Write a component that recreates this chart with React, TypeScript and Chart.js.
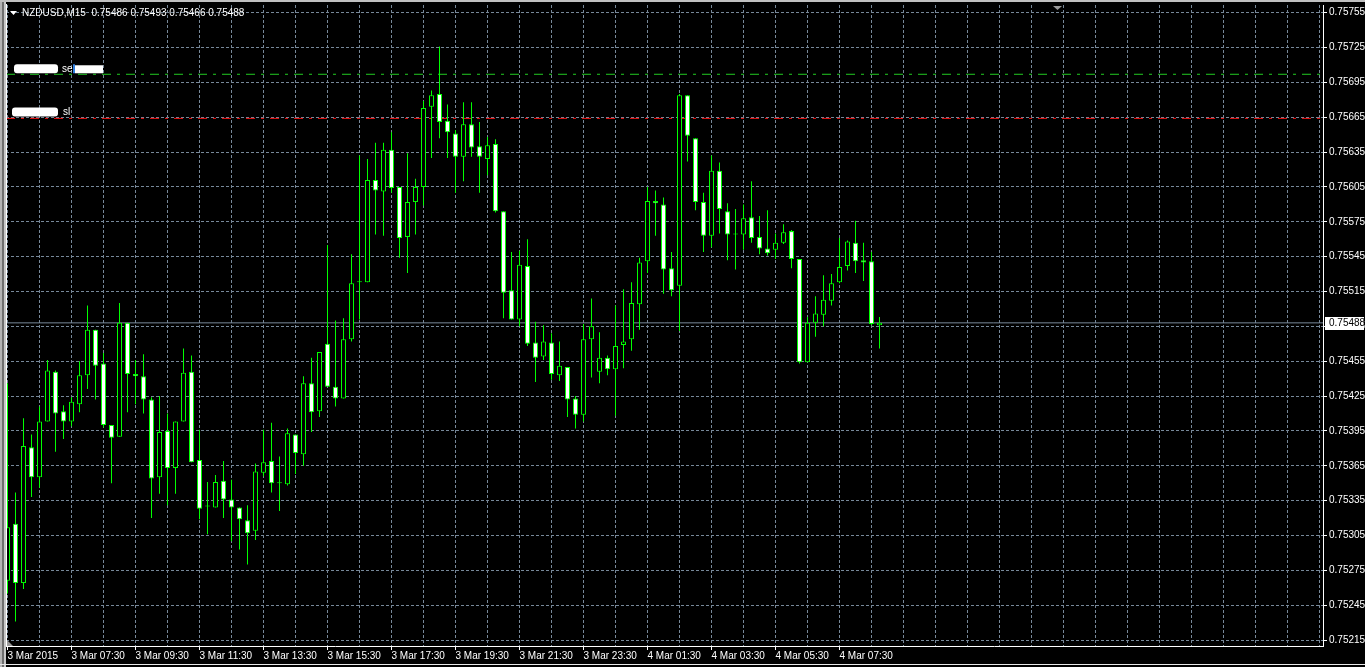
import React, { useEffect, useRef } from "react";
import { Chart, registerables } from "chart.js";

Chart.register(...registerables);

const symbol = "NZDUSD,M15";

// OHLC of each M15 bar, first bar = 3 Mar 2015 05:30
const opens = [
  0.75266, 0.75315, 0.75264, 0.75381, 0.75355, 0.75403, 0.75446, 0.75412, 0.75403, 0.75418,
  0.75443, 0.75482, 0.75453, 0.754, 0.7539, 0.75488, 0.75444, 0.75442, 0.75422, 0.75355,
  0.75395, 0.75363, 0.75403, 0.75446, 0.7537, 0.7533, 0.75329, 0.75352, 0.75336, 0.75329,
  0.75318, 0.75309, 0.75359, 0.75369, 0.7535, 0.75349, 0.75392, 0.75375, 0.75436, 0.75412,
  0.7547, 0.75433, 0.75423, 0.75474, 0.75523, 0.75523, 0.75611, 0.75601, 0.75637, 0.75605,
  0.75562, 0.75592, 0.75605, 0.75674, 0.75685, 0.75662, 0.75651, 0.75631, 0.75659, 0.7564,
  0.75629, 0.75642, 0.75584, 0.75516, 0.75491, 0.75537, 0.75471, 0.75459, 0.75471, 0.75443,
  0.7545, 0.75423, 0.75409, 0.75474, 0.75446, 0.75458, 0.75448, 0.75469, 0.75474, 0.75504,
  0.75541, 0.75593, 0.7559, 0.75535, 0.7552, 0.75684, 0.75647, 0.75592, 0.75563, 0.75619,
  0.75584, 0.75564, 0.75564, 0.75579, 0.75562, 0.75552, 0.75551, 0.75557, 0.75567, 0.75543,
  0.75454, 0.75488, 0.75495, 0.75507, 0.75523, 0.75537, 0.75557, 0.75542, 0.75541, 0.75486,
];
const highs = [
  0.75436, 0.75342, 0.75406, 0.75392, 0.75416, 0.75456, 0.75447, 0.75417, 0.75424, 0.75455,
  0.75503, 0.75482, 0.75462, 0.754, 0.75505, 0.75488, 0.75456, 0.75461, 0.75424, 0.75425,
  0.7541, 0.75403, 0.75466, 0.7546, 0.75396, 0.75351, 0.75357, 0.75369, 0.75353, 0.75329,
  0.75331, 0.75367, 0.75396, 0.75402, 0.75373, 0.75397, 0.75392, 0.75442, 0.75458, 0.75463,
  0.75555, 0.7549, 0.75492, 0.75547, 0.75632, 0.75629, 0.75643, 0.75643, 0.75652, 0.75605,
  0.75634, 0.75612, 0.75679, 0.75688, 0.75726, 0.75676, 0.75654, 0.75678, 0.75678, 0.75661,
  0.75648, 0.75646, 0.75584, 0.75549, 0.7555, 0.7556, 0.75489, 0.75486, 0.75479, 0.75472,
  0.7545, 0.75425, 0.75487, 0.75509, 0.7548, 0.7546, 0.75503, 0.75517, 0.75523, 0.75544,
  0.75605, 0.75602, 0.75596, 0.75549, 0.75685, 0.75684, 0.75647, 0.756, 0.75632, 0.75626,
  0.75591, 0.75586, 0.7559, 0.7561, 0.7558, 0.75585, 0.75565, 0.75573, 0.75568, 0.75543,
  0.75493, 0.75511, 0.75529, 0.7553, 0.75561, 0.75559, 0.75576, 0.75557, 0.75549, 0.75493,
];
const lows = [
  0.75255, 0.75231, 0.75259, 0.75338, 0.75346, 0.75403, 0.75377, 0.75388, 0.75399, 0.75411,
  0.75431, 0.75422, 0.75398, 0.7535, 0.7539, 0.75411, 0.75418, 0.7541, 0.7532, 0.75341,
  0.75331, 0.75341, 0.75403, 0.75368, 0.75319, 0.75306, 0.75329, 0.7532, 0.753, 0.75293,
  0.7528, 0.75301, 0.75356, 0.75342, 0.75326, 0.75348, 0.75358, 0.75365, 0.75394, 0.75407,
  0.75433, 0.75416, 0.75423, 0.75472, 0.75491, 0.75523, 0.75564, 0.75563, 0.756, 0.75544,
  0.75531, 0.75564, 0.75589, 0.7563, 0.75647, 0.7563, 0.756, 0.7561, 0.75631, 0.756,
  0.75615, 0.75583, 0.75492, 0.75491, 0.75485, 0.75468, 0.75437, 0.75456, 0.75439, 0.75438,
  0.75407, 0.75397, 0.75403, 0.75441, 0.75436, 0.75443, 0.75408, 0.75449, 0.75464, 0.75482,
  0.75531, 0.75563, 0.75513, 0.75511, 0.75481, 0.75627, 0.75585, 0.75549, 0.75553, 0.75565,
  0.75542, 0.75534, 0.75551, 0.75557, 0.75547, 0.75546, 0.75543, 0.75556, 0.75535, 0.75453,
  0.75454, 0.75476, 0.75485, 0.75503, 0.75522, 0.75533, 0.75531, 0.75524, 0.75486, 0.75466,
];
const closes = [
  0.75312, 0.75264, 0.75382, 0.75355, 0.75403, 0.75447, 0.7541, 0.75403, 0.7542, 0.75443,
  0.75482, 0.75451, 0.754, 0.75389, 0.75488, 0.75444, 0.75442, 0.75422, 0.75354, 0.75394,
  0.75363, 0.75403, 0.75445, 0.75368, 0.75328, 0.7533, 0.75351, 0.75336, 0.75329, 0.75319,
  0.75307, 0.7536, 0.75368, 0.7535, 0.7535, 0.75393, 0.75376, 0.75436, 0.75411, 0.75463,
  0.75433, 0.75423, 0.75474, 0.75522, 0.75523, 0.75611, 0.75602, 0.75637, 0.75604, 0.75561,
  0.75592, 0.75605, 0.75673, 0.75684, 0.75661, 0.75652, 0.75631, 0.75659, 0.75639, 0.75631,
  0.75641, 0.75584, 0.75514, 0.75491, 0.75538, 0.7547, 0.75458, 0.75472, 0.75444, 0.75451,
  0.75422, 0.75409, 0.75474, 0.75485, 0.75458, 0.75448, 0.75468, 0.75472, 0.75505, 0.7554,
  0.75593, 0.75591, 0.75534, 0.75516, 0.75684, 0.75649, 0.75592, 0.75563, 0.75619, 0.75586,
  0.75564, 0.75564, 0.75578, 0.75561, 0.75552, 0.75548, 0.75557, 0.75566, 0.75543, 0.75454,
  0.75488, 0.75496, 0.75508, 0.75522, 0.75536, 0.75558, 0.75541, 0.7554, 0.75487, 0.75488,
];

// time-axis labels, one every 8 bars (2 hours)
const xTickLabels = [
  "3 Mar 2015", "3 Mar 07:30", "3 Mar 09:30", "3 Mar 11:30", "3 Mar 13:30", "3 Mar 15:30",
  "3 Mar 17:30", "3 Mar 19:30", "3 Mar 21:30", "3 Mar 23:30", "4 Mar 01:30", "4 Mar 03:30",
  "4 Mar 05:30", "4 Mar 07:30",
];
const barsPerLabel = 8;
const barsPerGrid = 4;

// price-axis ticks
const yTickValues = [
  0.75215, 0.75245, 0.75275, 0.75305, 0.75335, 0.75365, 0.75395, 0.75425, 0.75455, 0.75485,
  0.75515, 0.75545, 0.75575, 0.75605, 0.75635, 0.75665, 0.75695, 0.75725, 0.75755,
];

// order levels
const sellLevel = 0.75702;
const slLevel = 0.75664;

// visible ranges
const yMin = 0.7520984;
const yMax = 0.7576163;
const xMin = -0.1875;
const xMax = 164.4375;

const FONT = "'Liberation Sans', Arial, sans-serif";
const GRID = "#778899";
const CANDLE = "#00ff00";

const decorPlugin = {
  id: "mt4decor",
  beforeDraw(chart: any) {
    const ctx = chart.ctx;
    ctx.save();
    ctx.fillStyle = "#000";
    ctx.fillRect(0, 0, chart.width, chart.height);
    ctx.restore();
  },
  afterDraw(chart: any) {
    const ctx: CanvasRenderingContext2D = chart.ctx;
    const area = chart.chartArea;
    const yScale = chart.scales.y;
    const W = chart.width;
    const H = chart.height;
    ctx.save();

    // window frame
    ctx.fillStyle = "#b4b4b4";
    ctx.fillRect(0, 0, 2, H);
    ctx.fillStyle = "#6e6e6e";
    ctx.fillRect(2, 0, 2, H);
    ctx.fillStyle = "#c8c8c8";
    ctx.fillRect(4, 0, 2, H);
    ctx.fillStyle = "#c0c0c0";
    ctx.fillRect(0, 0, W, 2);
    ctx.fillStyle = "#ffffff";
    ctx.fillRect(area.left, area.top - 1, 1, area.bottom - area.top + 1);
    ctx.fillStyle = "#e8e8e8";
    ctx.fillRect(0, H - 3, W, 1);

    // chart-shift markers
    ctx.fillStyle = "#9a9a9a";
    ctx.beginPath();
    ctx.moveTo(1053, area.top + 1);
    ctx.lineTo(1062, area.top + 1);
    ctx.lineTo(1057.5, area.top + 5);
    ctx.closePath();
    ctx.fill();
    ctx.beginPath();
    ctx.moveTo(area.left + 1, area.bottom - 6);
    ctx.lineTo(area.left + 1, area.bottom);
    ctx.lineTo(area.left + 7, area.bottom);
    ctx.closePath();
    ctx.fill();

    // title
    const n = closes.length - 1;
    ctx.fillStyle = "#ffffff";
    ctx.beginPath();
    ctx.moveTo(10, 11);
    ctx.lineTo(17, 11);
    ctx.lineTo(13.5, 15);
    ctx.closePath();
    ctx.fill();
    ctx.font = `10px ${FONT}`;
    ctx.textBaseline = "middle";
    ctx.textAlign = "left";
    const title = `${symbol}  ${opens[n].toFixed(5)} ${highs[n].toFixed(5)} ${lows[n].toFixed(5)} ${closes[n].toFixed(5)}`;
    ctx.fillText(title, 22, 13.5);

    // order labels (redacted in the source picture)
    const ySell = yScale.getPixelForValue(sellLevel);
    ctx.fillStyle = "#ffffff";
    ctx.beginPath();
    ctx.roundRect(14, ySell - 10, 44, 9, 3);
    ctx.fill();
    ctx.fillText("se", 62, ySell - 5);
    ctx.fillStyle = "#2f7fe0";
    ctx.fillRect(73, ySell - 10, 2, 9);
    ctx.fillStyle = "#ffffff";
    ctx.fillRect(75, ySell - 9, 28, 8);

    const ySl = yScale.getPixelForValue(slLevel);
    ctx.beginPath();
    ctx.roundRect(12, ySl - 11, 46, 9, 3);
    ctx.fill();
    ctx.fillText("sl", 63, ySl - 6);

    // current price tag
    const yc = yScale.getPixelForValue(closes[n]);
    ctx.fillStyle = "#ffffff";
    ctx.fillRect(area.right + 2, Math.round(yc) - 6, 39, 13);
    ctx.fillStyle = "#000000";
    ctx.fillText(closes[n].toFixed(5), area.right + 6, Math.round(yc) + 0.5);

    ctx.restore();
  },
};

export default function App() {
  const ref = useRef<HTMLCanvasElement>(null);

  useEffect(() => {
    document.body.style.margin = "0";
    document.body.style.background = "#000";
    const canvas = ref.current!;
    const n = closes.length;
    const idx = closes.map((_, i) => i);
    const bodyColors = idx.map((i) => (closes[i] >= opens[i] ? "#000000" : "#ffffff"));
    const last = closes[n - 1];

    const xGridTicks: number[] = [];
    for (let v = 0; v <= xMax; v += barsPerGrid) xGridTicks.push(v);

    const chart = new Chart(canvas, {
      type: "bar",
      data: {
        datasets: [
          {
            type: "bar",
            label: "body",
            data: idx.map((i) => ({ x: i, y: [opens[i], closes[i]] })) as any,
            backgroundColor: bodyColors,
            borderColor: CANDLE,
            borderWidth: 1,
            borderSkipped: false,
            barThickness: 5,
            minBarLength: 1,
            inflateAmount: 0,
            grouped: false,
            order: 0,
          } as any,
          {
            type: "bar",
            label: "wick",
            data: idx.map((i) => ({ x: i, y: [lows[i], highs[i]] })) as any,
            backgroundColor: CANDLE,
            borderWidth: 0,
            barThickness: 1,
            inflateAmount: 0,
            grouped: false,
            order: 1,
          } as any,
          {
            type: "line",
            label: "bid",
            data: [
              { x: xMin, y: last },
              { x: xMax, y: last },
            ],
            borderColor: GRID,
            borderWidth: 1,
            pointRadius: 0,
            order: 3,
          } as any,
          {
            type: "line",
            label: "sell",
            data: [
              { x: xMin, y: sellLevel },
              { x: xMax, y: sellLevel },
            ],
            borderColor: "#22cc22",
            borderWidth: 1,
            borderDash: [9, 6, 3, 6],
            pointRadius: 0,
            order: 3,
          } as any,
          {
            type: "line",
            label: "sl",
            data: [
              { x: xMin, y: slLevel },
              { x: xMax, y: slLevel },
            ],
            borderColor: "#ee1111",
            borderWidth: 1,
            borderDash: [9, 6, 3, 6],
            pointRadius: 0,
            order: 3,
          } as any,
        ],
      },
      options: {
        animation: false,
        responsive: false,
        devicePixelRatio: 1,
        events: [],
        layout: { padding: { left: 6, top: 5, right: 0, bottom: 0 }, autoPadding: false },
        plugins: { legend: { display: false }, tooltip: { enabled: false }, title: { display: false } },
        scales: {
          x: {
            type: "linear",
            min: xMin,
            max: xMax,
            offset: false,
            afterBuildTicks: (s: any) => {
              s.ticks = xGridTicks.map((v) => ({ value: v }));
            },
            afterFit: (s: any) => {
              s.height = 21;
              s.paddingLeft = 0;
              s.paddingRight = 0;
            },
            grid: {
              offset: false,
              color: GRID,
              lineWidth: 1,
              tickLength: 4,
              tickColor: (c: any) => (c.tick && c.tick.label ? "#ffffff" : "rgba(0,0,0,0)"),
              tickBorderDash: [],
            },
            border: { display: true, color: "#ffffff", width: 1, dash: [3, 2] },
            ticks: {
              autoSkip: false,
              maxRotation: 0,
              minRotation: 0,
              align: "start",
              padding: 0,
              color: "#ffffff",
              font: { family: FONT, size: 10 },
              callback: (value: any) => {
                const v = Number(value);
                if (v % barsPerLabel !== 0) return "";
                return xTickLabels[v / barsPerLabel] ?? "";
              },
            },
          } as any,
          y: {
            type: "linear",
            position: "right",
            min: yMin,
            max: yMax,
            afterBuildTicks: (s: any) => {
              s.ticks = yTickValues.map((v) => ({ value: v }));
            },
            afterFit: (s: any) => {
              s.width = 42;
              s.paddingTop = 0;
              s.paddingBottom = 0;
            },
            grid: {
              color: GRID,
              lineWidth: 1,
              tickLength: 4,
              tickColor: "#ffffff",
              tickBorderDash: [],
            },
            border: { display: true, color: "#ffffff", width: 1, dash: [3, 2] },
            ticks: {
              padding: 2,
              color: "#ffffff",
              font: { family: FONT, size: 10 },
              callback: (value: any) => Number(value).toFixed(5),
            },
          } as any,
        },
      },
      plugins: [decorPlugin],
    });

    return () => chart.destroy();
  }, []);

  return (
    <div style={{ width: 1365, height: 667 }}>
      <canvas ref={ref} width={1365} height={667} style={{ display: "block" }} />
    </div>
  );
}
